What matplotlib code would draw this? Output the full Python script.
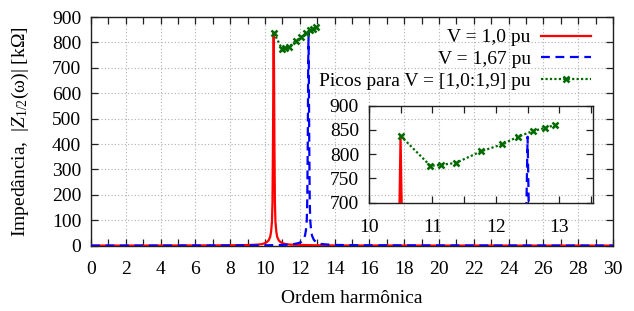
import matplotlib
matplotlib.use("Agg")
import matplotlib.pyplot as plt
from matplotlib.ticker import MultipleLocator, FixedLocator, FixedFormatter

plt.rcParams['font.family'] = ['Liberation Serif', 'DejaVu Serif']
plt.rcParams['mathtext.fontset'] = 'custom'
plt.rcParams['mathtext.rm'] = 'Liberation Serif'
plt.rcParams['mathtext.it'] = 'Liberation Serif:italic'
plt.rcParams['font.size'] = 14

# ---- data ----
red_x = [0, 2, 4, 6, 8, 9, 9.5, 9.8, 10.0, 10.1, 10.2, 10.3, 10.35, 10.4, 10.43,
         10.46, 10.48, 10.5, 10.52, 10.54, 10.57, 10.6, 10.65, 10.7, 10.8, 10.9,
         11.0, 11.2, 11.5, 12, 13, 14, 16, 20, 25, 30]
red_y = [0.5, 0.6, 0.8, 1.0, 1.5, 2.5, 4, 6, 10, 14, 20, 35, 55, 95, 170,
         420, 670, 838, 670, 420, 170, 95, 55, 35, 20, 14,
         10, 6, 4, 3, 1.5, 1, 0.8, 0.6, 0.5, 0.5]

blue_x = [0, 2, 4, 6, 8, 10, 11, 11.5, 11.8, 12.0, 12.1, 12.2, 12.3, 12.35, 12.4,
          12.43, 12.46, 12.48, 12.5, 12.52, 12.54, 12.57, 12.6, 12.65, 12.7, 12.8,
          12.9, 13.0, 13.2, 13.5, 14, 15, 16, 20, 25, 30]
blue_y = [0.4, 0.5, 0.6, 0.8, 1.0, 1.5, 3, 5, 8, 12, 16, 24, 40, 60, 100,
          180, 430, 680, 836, 680, 430, 180, 100, 60, 40, 24,
          16, 12, 7, 5, 3, 2, 1.5, 1, 0.6, 0.5]

peak_x = [10.5, 10.97, 11.14, 11.37, 11.77, 12.09, 12.35, 12.59, 12.77, 12.93]
peak_y = [838, 776, 778, 782, 806, 820, 836, 848, 854, 860]

labels = ['V = 1,0 pu', 'V = 1,67 pu', 'Picos para V = [1,0:1,9] pu']

RED = '#ff0000'
BLUE = '#0000ff'
GREEN = '#006a00'

W, H = 634, 311
fig = plt.figure(figsize=(W / 100, H / 100), dpi=100)

def px_axes(l, t, r, b):
    return [l / W, 1 - b / H, (r - l) / W, (b - t) / H]

ax = fig.add_axes(px_axes(91, 17, 613, 245.7))

def style(a):
    for s in a.spines.values():
        s.set_linewidth(1.0)
        s.set_color('#202020')
    a.tick_params(which='both', direction='in', top=True, right=True,
                  length=5, width=0.9, color='#202020')

l1, = ax.plot(red_x, red_y, color=RED, lw=1.6, zorder=3)
l2, = ax.plot(blue_x, blue_y, color=BLUE, lw=1.6, ls=(0, (4, 2.5)), zorder=4)
l3, = ax.plot(peak_x, peak_y, color=GREEN, lw=1.6, ls=(0, (1, 1)),
              marker='x', ms=4.5, mew=1.8, zorder=5)

ax.set_xlim(0, 30)
ax.set_ylim(0, 900)
ax.xaxis.set_major_locator(MultipleLocator(2))
ax.xaxis.set_minor_locator(MultipleLocator(1))
ax.yaxis.set_major_locator(MultipleLocator(100))
style(ax)
ax.tick_params(axis='x', which='major', pad=11)
ax.tick_params(axis='y', which='major', pad=7)
ax.grid(True, which='major', color='#b0b0b0', ls=(0, (1, 2)), lw=0.8)
ax.set_axisbelow(True)

ax.set_xlabel('Ordem harmônica', labelpad=9)
ax.set_ylabel('Impedância,  |$Z_{1/2}$(ω)| [kΩ]', labelpad=15)

leg = ax.legend([l1, l2, l3], labels, loc='upper right',
                bbox_to_anchor=(595 / W, 1 - 25 / H), bbox_transform=fig.transFigure,
                markerfirst=False, frameon=False, handlelength=2.6,
                handletextpad=0.5, labelspacing=0.2, borderpad=0.2,
                borderaxespad=0, fontsize=14)

# ---- inset ----
ins = fig.add_axes(px_axes(368.8, 105.7, 593, 202.7))
ins.patch.set_alpha(0)
ins.plot(red_x, red_y, color=RED, lw=1.6, zorder=3)
ins.plot(blue_x, blue_y, color=BLUE, lw=1.6, ls=(0, (4, 2.5)), zorder=4)
ins.plot(peak_x, peak_y, color=GREEN, lw=1.6, ls=(0, (1, 1)),
         marker='x', ms=4.5, mew=1.8, zorder=5)
ins.set_xlim(10, 13.53)
ins.set_ylim(700, 900)
xt = [10, 10.5, 11, 11.5, 12, 12.5, 13, 13.5]
ins.xaxis.set_major_locator(FixedLocator(xt))
ins.xaxis.set_major_formatter(FixedFormatter(['10', '', '11', '', '12', '', '13', '']))
ins.yaxis.set_major_locator(MultipleLocator(50))
style(ins)
ins.tick_params(axis='x', pad=12)
ins.tick_params(axis='y', pad=7)

fig.savefig('out.png', dpi=100)
